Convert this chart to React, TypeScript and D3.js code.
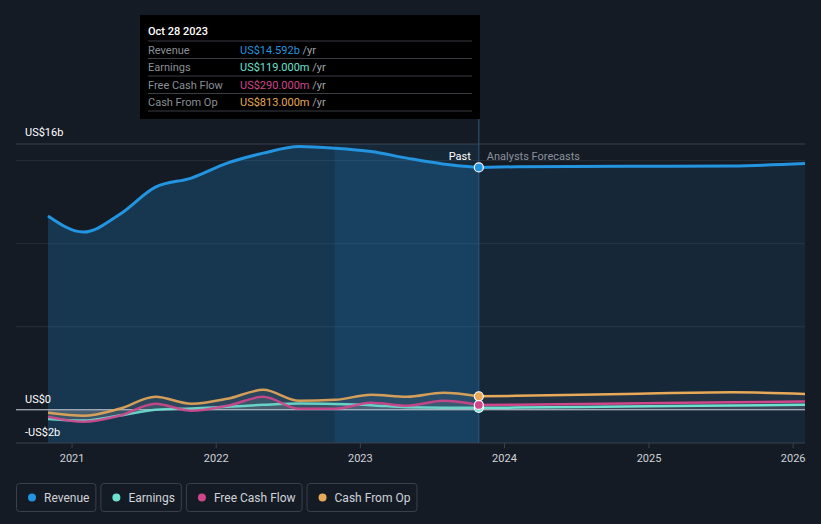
import React from "react";
import * as d3 from "d3";

// quarterly dates (past) and forecast dates
const pastDates = [
  "2020-11-01", "2021-01-30", "2021-05-01", "2021-07-31", "2021-10-30",
  "2022-01-29", "2022-04-30", "2022-07-30", "2022-10-29", "2023-01-28",
  "2023-04-29", "2023-07-29", "2023-10-28",
];
const forecastDates = ["2023-10-28", "2024-01-31", "2024-10-31", "2025-07-31", "2026-01-31"];

// values in US$ billions
const revenuePast = [11.67, 10.7, 11.75, 13.4, 13.95, 14.85, 15.45, 15.85, 15.75, 15.55, 15.15, 14.8, 14.592];
const revenueForecast = [14.592, 14.63, 14.66, 14.68, 14.82];
const earningsPast = [-0.55, -0.65, -0.35, 0.0, 0.08, 0.18, 0.3, 0.38, 0.35, 0.28, 0.15, 0.12, 0.119];
const earningsForecast = [0.119, 0.13, 0.2, 0.26, 0.3];
const fcfPast = [-0.42, -0.72, -0.36, 0.36, -0.06, 0.24, 0.78, 0.06, 0.06, 0.42, 0.24, 0.54, 0.29];
const fcfForecast = [0.29, 0.3, 0.38, 0.45, 0.5];
const cfoPast = [-0.18, -0.36, 0.06, 0.78, 0.36, 0.66, 1.2, 0.54, 0.6, 0.9, 0.78, 1.02, 0.813];
const cfoForecast = [0.813, 0.84, 0.95, 1.05, 0.95];

const yearTicks = ["2021", "2022", "2023", "2024", "2025", "2026"];
const gridValues = [0, 5, 10, 15];

const tooltipRows = [
  { label: "Revenue", value: "US$14.592b", color: "#2394df" },
  { label: "Earnings", value: "US$119.000m", color: "#6ee0d0" },
  { label: "Free Cash Flow", value: "US$290.000m", color: "#d0468c" },
  { label: "Cash From Op", value: "US$813.000m", color: "#e8a958" },
];

const legendItems = [
  { label: "Revenue", color: "#2394df" },
  { label: "Earnings", color: "#6ee0d0" },
  { label: "Free Cash Flow", color: "#d0468c" },
  { label: "Cash From Op", color: "#e8a958" },
];

const W = 821;
const H = 524;
const BG = "#151b25";
const FONT = "Roboto, 'Noto Sans', sans-serif";

type Pt = [Date, number];

function textWidth(s: string, size: number) {
  const ctx = document.createElement("canvas").getContext("2d");
  if (!ctx) return s.length * size * 0.55;
  ctx.font = `${size}px Roboto`;
  return ctx.measureText(s).width;
}

export default function App() {
  const parse = d3.timeParse("%Y-%m-%d");
  const pd = pastDates.map((d) => parse(d) as Date);
  const fd = forecastDates.map((d) => parse(d) as Date);
  const cut = pd[pd.length - 1];

  const x = d3
    .scaleTime()
    .domain([parse("2020-11-01") as Date, parse("2026-01-31") as Date])
    .range([48, 805]);
  const y = d3.scaleLinear().domain([-2, 16]).range([443, 144]);

  const zip = (ds: Date[], vs: number[]): Pt[] => ds.map((d, i) => [d, vs[i]]);

  const line = d3
    .line<Pt>()
    .x((d) => x(d[0]))
    .y((d) => y(d[1]))
    .curve(d3.curveMonotoneX);
  const areaBottom = d3
    .area<Pt>()
    .x((d) => x(d[0]))
    .y0(y(-2))
    .y1((d) => y(d[1]))
    .curve(d3.curveMonotoneX);
  const areaZero = d3
    .area<Pt>()
    .x((d) => x(d[0]))
    .y0(y(0))
    .y1((d) => y(d[1]))
    .curve(d3.curveMonotoneX);

  const small = [
    { past: earningsPast, fc: earningsForecast, color: "#6ee0d0" },
    { past: fcfPast, fc: fcfForecast, color: "#d0468c" },
    { past: cfoPast, fc: cfoForecast, color: "#e8a958" },
  ];

  const cx = x(cut);
  const bandStart = x(parse("2022-10-28") as Date);

  return (
    <svg width={W} height={H} style={{ position: "absolute", left: 0, top: 0, background: BG }} fontFamily={FONT}>
      <rect x={0} y={0} width={W} height={H} fill={BG} />

      {/* grid */}
      <line x1={16} x2={805} y1={y(16)} y2={y(16)} stroke="#3a414c" strokeWidth={1} />
      {gridValues.map((g) => (
        <line key={g} x1={16} x2={805} y1={y(g)} y2={y(g)} stroke="#262d38" strokeWidth={1} />
      ))}

      {/* revenue area */}
      <path d={areaBottom(zip(pd, revenuePast)) || ""} fill="#2394df" fillOpacity={0.24} />
      <path d={areaBottom(zip(fd, revenueForecast)) || ""} fill="#2394df" fillOpacity={0.1} />
      <rect x={bandStart} y={y(16)} width={cx - bandStart} height={y(-2) - y(16)} fill="#2394df" fillOpacity={0.11} />

      {/* small series areas */}
      {small.map((s, i) => (
        <g key={"a" + i}>
          <path d={areaZero(zip(pd, s.past)) || ""} fill="#9aa0a8" fillOpacity={0.14} />
          <path d={areaZero(zip(fd, s.fc)) || ""} fill="#9aa0a8" fillOpacity={0.1} />
        </g>
      ))}

      {/* zero line */}
      <line x1={16} x2={805} y1={y(0)} y2={y(0)} stroke="#c8ccd2" strokeWidth={1} />

      {/* divider */}
      <line x1={cx} x2={cx} y1={119} y2={y(-2)} stroke="#2e5a7c" strokeWidth={1} />

      {/* small series lines */}
      {small.map((s, i) => (
        <g key={"l" + i}>
          <path d={line(zip(pd, s.past)) || ""} fill="none" stroke={s.color} strokeWidth={2.5} strokeOpacity={0.9} />
          <path d={line(zip(fd, s.fc)) || ""} fill="none" stroke={s.color} strokeWidth={2.5} />
        </g>
      ))}

      {/* revenue line */}
      <path d={line(zip(pd, revenuePast)) || ""} fill="none" stroke="#2394df" strokeWidth={3} />
      <path d={line(zip(fd, revenueForecast)) || ""} fill="none" stroke="#2394df" strokeWidth={3} />

      {/* markers */}
      {[
        { v: earningsPast[earningsPast.length - 1], c: "#6ee0d0" },
        { v: fcfPast[fcfPast.length - 1], c: "#d0468c" },
        { v: cfoPast[cfoPast.length - 1], c: "#e8a958" },
        { v: revenuePast[revenuePast.length - 1], c: "#2394df" },
      ].map((m, i) => (
        <circle key={i} cx={cx} cy={y(m.v)} r={4.5} fill={m.c} stroke="#ffffff" strokeWidth={1.2} />
      ))}

      {/* y labels */}
      <text x={25} y={y(16) - 8} fill="#ffffff" fontSize={11}>US$16b</text>
      <text x={25} y={y(0) - 7} fill="#ffffff" fontSize={11}>US$0</text>
      <text x={25} y={y(-2) - 7} fill="#ffffff" fontSize={11}>-US$2b</text>

      <text x={cx - 8} y={160} fill="#ffffff" fontSize={11} textAnchor="end">Past</text>
      <text x={cx + 8} y={160} fill="#8b919a" fontSize={11}>Analysts Forecasts</text>

      {/* x axis */}
      <line x1={16} x2={805} y1={y(-2)} y2={y(-2)} stroke="#3a414c" strokeWidth={1} />
      {yearTicks.map((t) => {
        const xp = x(parse(t + "-01-01") as Date);
        return (
          <g key={t}>
            <line x1={xp} x2={xp} y1={y(-2)} y2={y(-2) + 5} stroke="#3a414c" />
            <text x={xp} y={462} fill="#d0d3d8" fontSize={11} textAnchor="middle">{t}</text>
          </g>
        );
      })}

      {/* tooltip */}
      <rect x={140} y={15} width={340} height={104} fill="#000000" />
      <text x={148} y={35} fill="#ffffff" fontSize={11} fontWeight={500}>Oct 28 2023</text>
      {tooltipRows.map((r, i) => {
        const top = 41 + i * 17.5;
        return (
          <g key={r.label}>
            <line x1={148} x2={472} y1={top} y2={top} stroke="#3a3d42" />
            <text x={148} y={top + 12.5} fill="#8b8f96" fontSize={11}>{r.label}</text>
            <text x={240} y={top + 12.5} fontSize={11}>
              <tspan fill={r.color}>{r.value}</tspan>
              <tspan fill="#a0a4aa"> /yr</tspan>
            </text>
          </g>
        );
      })}
      <line x1={148} x2={472} y1={111} y2={111} stroke="#3a3d42" />

      {/* legend */}
      {(() => {
        let lx = 16;
        return legendItems.map((it) => {
          const w = textWidth(it.label, 12) + 34;
          const g = (
            <g key={it.label}>
              <rect x={lx + 0.5} y={483.5} width={w} height={28} rx={3} fill="none" stroke="#3a404a" />
              <circle cx={lx + 16} cy={497.5} r={4} fill={it.color} />
              <text x={lx + 28} y={501.5} fill="#d0d3d8" fontSize={12}>{it.label}</text>
            </g>
          );
          lx += w + 5;
          return g;
        });
      })()}
    </svg>
  );
}
